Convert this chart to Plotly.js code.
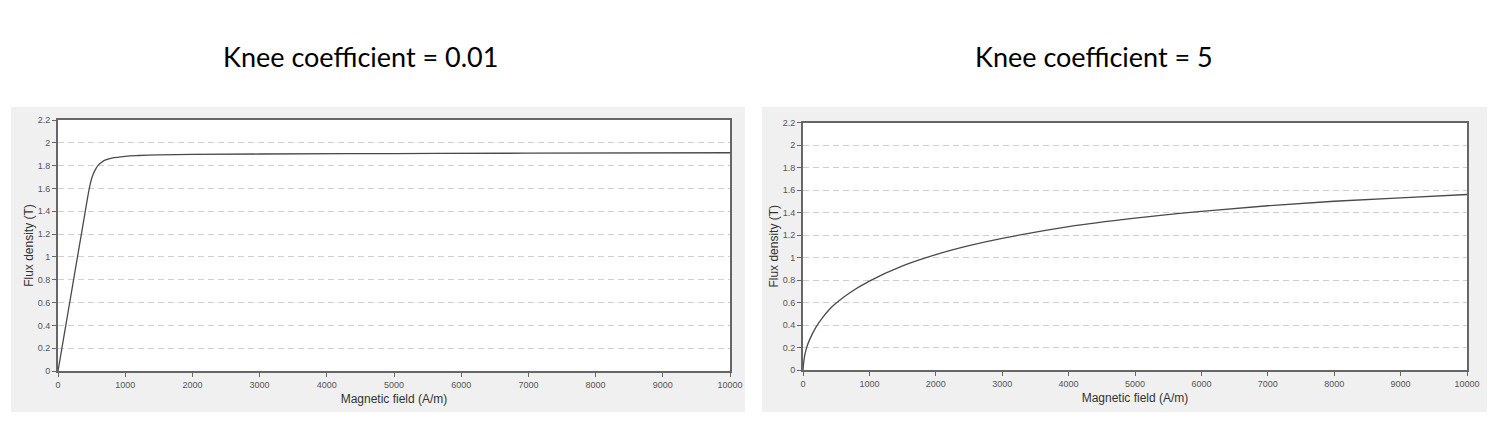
<!DOCTYPE html>
<html>
<head>
<meta charset="utf-8">
<script src="https://cdn.plot.ly/plotly-3.0.1.min.js"></script>
<style>
  html, body { margin: 0; padding: 0; background: #ffffff; }
  #chart { width: 1498px; height: 421px; }
</style>
</head>
<body>
<div id="chart"></div>
<script>
// B-H curves for two knee coefficients
const fieldLowKnee = [0, 100, 200, 300, 400, 480, 520, 560, 600, 650, 700, 800, 1000, 1200, 1500, 2000, 3000, 5000, 7000, 10000];
const fluxLowKnee  = [0, 0.345, 0.69, 1.035, 1.38, 1.64, 1.72, 1.77, 1.805, 1.83, 1.848, 1.866, 1.882, 1.889, 1.895, 1.899, 1.902, 1.906, 1.909, 1.913];

const fieldHighKnee = [0, 20, 50, 100, 200, 300, 400, 500, 700, 1000, 1500, 2000, 2500, 3000, 4000, 5000, 6000, 7000, 8000, 9000, 10000];
const fluxHighKnee  = [0, 0.11, 0.19, 0.27, 0.385, 0.47, 0.54, 0.595, 0.685, 0.79, 0.925, 1.025, 1.105, 1.17, 1.275, 1.35, 1.41, 1.46, 1.5, 1.53, 1.56];

const panelTitles = ['Knee coefficient = 0.01', 'Knee coefficient = 5'];
const xTitle = 'Magnetic field (A/m)';
const yTitle = 'Flux density (T)';
const xTicks = [0, 1000, 2000, 3000, 4000, 5000, 6000, 7000, 8000, 9000, 10000];
const yTicks = [0, 0.2, 0.4, 0.6, 0.8, 1, 1.2, 1.4, 1.6, 1.8, 2, 2.2];

const W = 1498, H = 421;
const px = v => v / W;
const py = v => 1 - v / H;

const lineStyle = { color: '#4a4a4a', width: 1.3, shape: 'spline', smoothing: 1 };

const traces = [
  { x: fieldLowKnee, y: fluxLowKnee, type: 'scatter', mode: 'lines', line: lineStyle, xaxis: 'x', yaxis: 'y', hoverinfo: 'x+y' },
  { x: fieldHighKnee, y: fluxHighKnee, type: 'scatter', mode: 'lines', line: lineStyle, xaxis: 'x2', yaxis: 'y2', hoverinfo: 'x+y' }
];

const tickFont = { family: 'Arial, Liberation Sans, sans-serif', size: 9, color: '#555555' };
const titleFont = { family: 'Arial, Liberation Sans, sans-serif', size: 12, color: '#333333' };

function xAxis(domain, anchor) {
  return {
    domain: domain, anchor: anchor, range: [0, 10000],
    tickvals: xTicks, ticktext: xTicks.map(String),
    ticks: 'outside', ticklen: 4, tickcolor: '#666666', tickwidth: 1,
    showline: true, linecolor: '#666666', linewidth: 2, mirror: true,
    showgrid: false, zeroline: false,
    tickfont: tickFont,
    title: { text: xTitle, font: titleFont, standoff: 6 }
  };
}
function yAxis(domain, anchor) {
  return {
    domain: domain, anchor: anchor, range: [0, 2.2],
    tickvals: yTicks, ticktext: yTicks.map(String),
    ticks: 'outside', ticklen: 4, tickcolor: '#666666', tickwidth: 1,
    showline: true, linecolor: '#666666', linewidth: 2, mirror: true,
    showgrid: true, gridcolor: '#cfcfcf', gridwidth: 1, griddash: '6px,4px',
    zeroline: false,
    tickfont: tickFont,
    title: { text: yTitle, font: titleFont, standoff: 1 }
  };
}

// Grey panel behind each chart, white plotting area on top of it
const panelShape = (x0, x1, y0, y1, fill) => ({
  type: 'rect', xref: 'paper', yref: 'paper', x0: px(x0), x1: px(x1), y0: py(y1), y1: py(y0),
  fillcolor: fill, line: { width: 0 }, layer: 'below'
});

const layout = {
  width: W, height: H,
  margin: { l: 0, r: 0, t: 0, b: 0 },
  paper_bgcolor: '#ffffff',
  plot_bgcolor: '#ffffff',
  showlegend: false,
  xaxis: xAxis([px(58), px(730)], 'y'),
  yaxis: yAxis([py(371), py(120)], 'x'),
  xaxis2: xAxis([px(803), px(1467)], 'y2'),
  yaxis2: yAxis([py(370), py(122.5)], 'x2'),
  shapes: [
    panelShape(11, 745, 107, 412, '#f0f0f0'),
    panelShape(762, 1487, 107, 412, '#f0f0f0'),
    panelShape(58, 730, 120, 371, '#ffffff'),
    panelShape(803, 1467, 122.5, 370, '#ffffff')
  ],
  annotations: [
    { text: panelTitles[0], xref: 'paper', yref: 'paper', x: px(360), y: py(56), xanchor: 'center', yanchor: 'middle',
      showarrow: false, font: { family: 'Lato, Open Sans, sans-serif', size: 27, color: '#000000' } },
    { text: panelTitles[1], xref: 'paper', yref: 'paper', x: px(1094), y: py(56), xanchor: 'center', yanchor: 'middle',
      showarrow: false, font: { family: 'Lato, Open Sans, sans-serif', size: 27, color: '#000000' } }
  ]
};

Plotly.newPlot('chart', traces, layout, { staticPlot: true, displayModeBar: false });
</script>
</body>
</html>
